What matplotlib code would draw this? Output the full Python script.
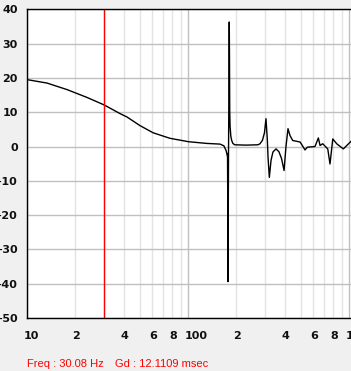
import matplotlib
matplotlib.use("Agg")
from matplotlib import pyplot as plt
from matplotlib.transforms import ScaledTranslation
import numpy as np

# group delay readout (msec) vs frequency (Hz)
freq = [10, 13.3, 17.7, 23.6, 30.2, 37.8, 41.8, 50.3, 60.7, 77.1, 100.6, 130.6,
        158, 167, 172.5, 175, 176.0, 176.8, 177.2, 177.5, 177.8, 178.5, 179.2, 179.8,
        180.4, 181.0, 181.6, 182.5, 184.5, 186.8, 190, 195, 230, 272, 280, 290,
        298.5, 305, 311, 314, 320, 328, 337, 352, 367, 381, 395, 406, 418, 430,
        447, 475, 497, 508, 533, 551, 615, 645, 661, 687, 738, 762, 793, 839,
        922, 1029]
gd = [19.5, 18.5, 16.6, 14.3, 12.1, 9.6, 8.6, 6.1, 4.0, 2.4, 1.4, 0.9,
      0.7, 0.2, -1.2, -2.5, -3, -22, -39.4, -2, -22, -2, 10.5, 26,
      36.3, 26, 10.5, 6, 3, 1.75, 0.9, 0.5, 0.4, 0.5, 0.8, 1.8,
      4.0, 8.1, 2, -3, -9.0, -4, -1.6, -0.7, -1.5, -3.5, -7.0, 0, 5.2, 3.2,
      1.75, 1.5, 1.3, 0.6, -1.0, -0.2, 0.0, 2.5, 0.3, 0.8, -0.7, -5.1, 2.2, 0.8,
      -0.7, 1.5]

cursor_freq = 30.08
cursor_gd = 12.1109

xmajor = [10, 100, 1000]
xmajor_labels = ["10", "100", "1"]
xminor = [20, 30, 40, 50, 60, 70, 80, 90, 200, 300, 400, 500, 600, 700, 800, 900]
xminor_labels = ["2", "", "4", "", "6", "", "8", "", "2", "", "4", "", "6", "", "8", ""]
yticks = [-50, -40, -30, -20, -10, 0, 10, 20, 30, 40]

fig = plt.figure(figsize=(3.51, 3.71), dpi=100, facecolor="#f0f0f0")
ax = fig.add_axes([27 / 351, 53 / 371, 324 / 351, 308.7 / 371])
ax.set_facecolor("white")

ax.set_xscale("log")
ax.set_xlim(10, 1029)
ax.set_ylim(-50, 40)

ax.set_xticks(xmajor)
ax.set_xticklabels(xmajor_labels)
ax.set_xticks(xminor, minor=True)
ax.set_xticklabels(xminor_labels, minor=True)
ax.set_yticks(yticks)

ax.grid(True, which="major", color="#c0c0c0", linewidth=1.0)
ax.grid(True, which="minor", axis="x", color="#e3e3e3", linewidth=1.0)
ax.set_axisbelow(True)

ax.tick_params(which="both", length=0)
ax.tick_params(axis="x", which="both", pad=9.4, labelsize=8, labelcolor="#101010")
ax.tick_params(axis="y", pad=6.5, labelsize=8, labelcolor="#101010")
xlabs = ax.get_xticklabels() + ax.get_xticklabels(minor=True)
for lab in xlabs + ax.get_yticklabels():
    lab.set_fontweight("bold")
for lab in xlabs:
    lab.set_horizontalalignment("left")
    lab.set_transform(lab.get_transform() + ScaledTranslation(-3.5 / 100, 0, fig.dpi_scale_trans))

for side in ["top", "left", "bottom"]:
    ax.spines[side].set_color("black")
    ax.spines[side].set_linewidth(1.0)
ax.spines["right"].set_visible(False)

ax.plot(freq, gd, color="black", linewidth=1.0)
ax.axvline(cursor_freq, color="#ff0000", linewidth=1.0)

fig.text(27 / 351, 4 / 371, f"Freq : {cursor_freq:.2f} Hz", color="#ff0000",
         fontsize=8, family="Liberation Sans", va="baseline")
fig.text(115 / 351, 4 / 371, f"Gd : {cursor_gd:.4f} msec", color="#ff0000",
         fontsize=8, family="Liberation Sans", va="baseline")

fig.savefig("out.png", dpi=100, facecolor=fig.get_facecolor())
